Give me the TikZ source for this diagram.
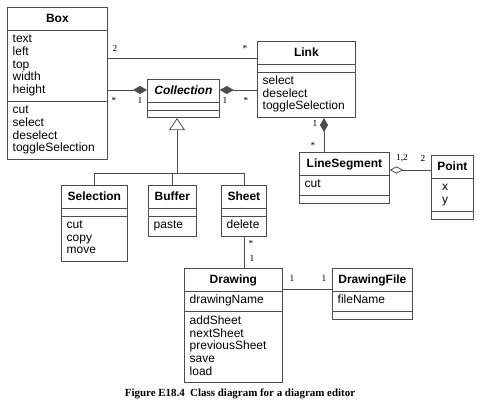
\documentclass[tikz,border=0pt]{standalone}
\usepackage{fontspec}
\setsansfont{Liberation Sans}
\newfontfamily\timesfont{Liberation Serif}
\usetikzlibrary{shapes.multipart,arrows.meta}

\newcommand{\clsname}[1]{\makebox[\hsize][c]{\rule[-3.2pt]{0pt}{11.3pt}\textbf{#1}}}

\tikzset{
    umlclass/.style={rectangle split, rectangle split parts=3, draw=black!70, line width=0.6pt,
        anchor=north west, inner xsep=4pt, inner ysep=2.6pt, align=left,
        font=\sffamily\fontsize{9}{9.5}\selectfont},
    mult/.style={font=\timesfont\fontsize{7}{8}\selectfont, inner sep=0pt},
    assoc/.style={draw=black!70, line width=0.6pt},
    comp/.style={assoc, {Diamond[length=10.5pt,width=6pt]}-},
    aggr/.style={assoc, {Diamond[open,length=10pt,width=5.5pt]}-},
    inherit/.style={assoc, -{Triangle[open,length=9pt,width=12pt]}}
}

\begin{document}
\begin{tikzpicture}[x=0.75pt, y=-0.75pt]
        \useasboundingbox (0,0) rectangle (489,417);

        \node[umlclass, text width=67pt] (box) at (7,7)
            {\clsname{Box}\nodepart{two}\strut text\\left\\top\\width\\height\strut
             \nodepart{three}\strut cut\\select\\deselect\\toggleSelection\strut};
        \node[umlclass, text width=65.5pt] (link) at (257,41)
            {\clsname{Link}\nodepart{two}\nodepart{three}\strut select\\deselect\\toggleSelection\strut};
        \node[umlclass, text width=46pt] (coll) at (147,79)
            {\clsname{\textit{Collection}}\nodepart{two}\nodepart{three}};
        \node[umlclass, text width=41.5pt] (selection) at (61,185)
            {\clsname{Selection}\nodepart{two}\nodepart{three}\strut cut\\copy\\move\strut};
        \node[umlclass, text width=28pt] (buffer) at (148,185)
            {\clsname{Buffer}\nodepart{two}\nodepart{three}\strut paste\strut};
        \node[umlclass, text width=25.75pt] (sheet) at (221,185)
            {\clsname{Sheet}\nodepart{two}\nodepart{three}\strut delete\strut};
        \node[umlclass, text width=65.5pt] (drawing) at (184,268)
            {\clsname{Drawing}\nodepart{two}\strut drawingName\strut
             \nodepart{three}\strut addSheet\\nextSheet\\previousSheet\\save\\load\strut};
        \node[umlclass, text width=52pt] (dfile) at (332,268)
            {\clsname{DrawingFile}\nodepart{two}\strut fileName\strut\nodepart{three}};
        \node[umlclass, text width=59.5pt] (lseg) at (299,152)
            {\clsname{LineSegment}\nodepart{two}\strut cut\strut\nodepart{three}};
        \node[umlclass, text width=23.5pt] (point) at (431,155)
            {\clsname{Point}\nodepart{two}\strut\hspace*{4pt}x\\\hspace*{4pt}y\strut\nodepart{three}};

        \draw[assoc] (box.east |- 0,58) -- (link.west |- 0,58);
        \draw[comp] (coll.west |- 0,90) -- (box.east |- 0,90);
        \draw[comp] (coll.east |- 0,90) -- (link.west |- 0,90);
        \draw[comp] (link.south -| 324,0) -- (lseg.north -| 324,0);
        \draw[aggr] (lseg.east |- 0,170) -- (point.west |- 0,170);
        \draw[assoc] (sheet.south) -- (sheet.south |- drawing.north);
        \draw[assoc] (drawing.east |- 0,289) -- (dfile.west |- 0,289);

        \coordinate (fork) at (177,173);
        \draw[inherit] (fork) -- (fork |- coll.south);
        \draw[assoc] (selection.north) -- ++(0,-12) -| (sheet.north);
        \draw[assoc] (buffer.north) -- (buffer.north |- fork);

        \node[mult] (m1) at (115,48) {2};
        \node[mult] (m2) at (245,48) {*};
        \node[mult] (m3) at (114,100) {*};
        \node[mult] (m4) at (140,100) {1};
        \node[mult] (m5) at (225,100) {1};
        \node[mult] (m6) at (246,100) {*};
        \node[mult] (m7) at (315,123) {1};
        \node[mult] (m8) at (313,145) {*};
        \node[mult] (m9) at (402,158) {1,2};
        \node[mult] (m10) at (423,158) {2};
        \node[mult] (m11) at (251,243) {*};
        \node[mult] (m12) at (252,258) {1};
        \node[mult] (m13) at (292,278) {1};
        \node[mult] (m14) at (324,278) {1};

        \node[font=\timesfont\bfseries\fontsize{8.2}{10}\selectfont] (caption) at (240,394)
            {Figure E18.4\ \ Class diagram for a diagram editor};
    \end{tikzpicture}
\end{document}
